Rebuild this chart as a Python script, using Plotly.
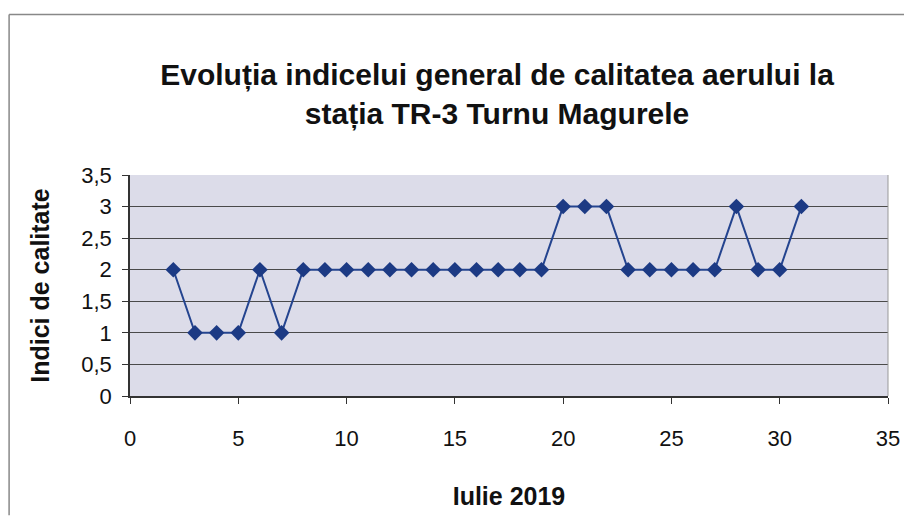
import plotly.graph_objects as go

days = list(range(2, 32))
index_values = [2, 1, 1, 1, 2, 1, 2, 2, 2, 2, 2, 2, 2, 2, 2, 2, 2, 2,
                3, 3, 3, 2, 2, 2, 2, 2, 3, 2, 2, 3]
x_ticks = [0, 5, 10, 15, 20, 25, 30, 35]
y_ticks = [0, 0.5, 1, 1.5, 2, 2.5, 3, 3.5]

title_text = "Evoluția indicelui general de calitatea aerului la<br>stația TR-3 Turnu Magurele"
x_title = "Iulie 2019"
y_title = "Indici de calitate"

fig = go.Figure()
fig.add_trace(go.Scatter(
    x=days, y=index_values, mode="lines+markers",
    line=dict(color="#24448f", width=2),
    marker=dict(symbol="diamond", size=12, color="#1c3a84"),
    showlegend=False,
))

font_family = "Liberation Sans, Arial, sans-serif"
fig.update_layout(
    width=904, height=510,
    margin=dict(l=122, r=22, t=167, b=120),
    paper_bgcolor="white",
    plot_bgcolor="#dcdce9",
    separators=", ",
    font=dict(family=font_family, color="#111111"),
    title=dict(text="<b>" + title_text + "</b>", x=0.541, xanchor="center",
               y=0.85, yanchor="middle",
               font=dict(size=30, family=font_family, color="#111111")),
    xaxis=dict(range=[0, 35], tickvals=x_ticks, showgrid=False, zeroline=False,
               showline=True, linecolor="#333333", linewidth=1.5,
               ticks="outside", ticklen=6, tickcolor="#333333",
               tickfont=dict(size=22), ticklabelstandoff=16,
               title=dict(text="<b>" + x_title + "</b>", font=dict(size=25), standoff=37)),
    yaxis=dict(range=[0, 3.5], tickvals=y_ticks, showgrid=True, gridcolor="#4a4a4a",
               gridwidth=1, zeroline=False, showline=True, linecolor="#333333",
               linewidth=1.5, ticks="outside", ticklen=6, tickcolor="#333333",
               tickfont=dict(size=22), ticklabelstandoff=6,
               title=dict(text="<b>" + y_title + "</b>", font=dict(size=25), standoff=25)),
    shapes=[
        dict(type="line", xref="paper", yref="paper", x0=1, x1=1, y0=0, y1=1,
             line=dict(color="#999999", width=1)),
        dict(type="line", xref="paper", yref="paper", x0=-0.1595, x1=1.03, y0=1.726, y1=1.726,
             line=dict(color="#888888", width=1.5)),
        dict(type="line", xref="paper", yref="paper", x0=-0.1595, x1=-0.1595, y0=-0.54, y1=1.726,
             line=dict(color="#888888", width=1.5)),
    ],
)

fig.write_html("out.html")
